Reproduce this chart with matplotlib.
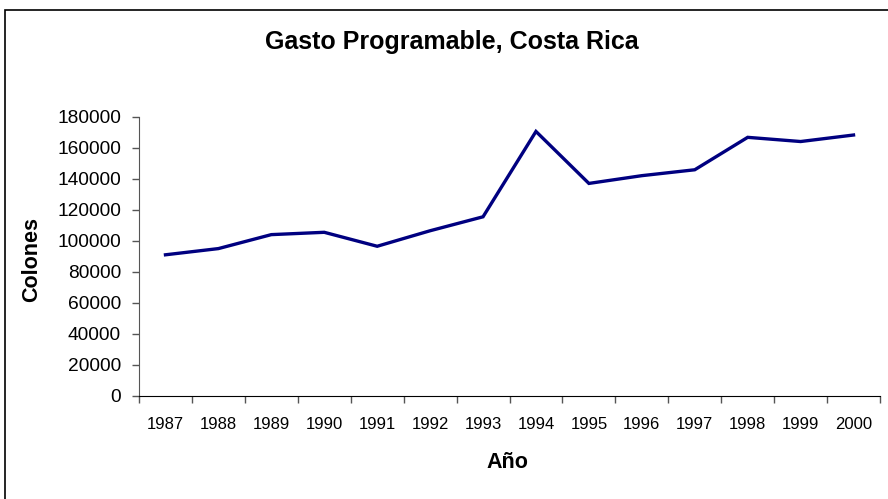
import matplotlib.pyplot as plt
import matplotlib.patches as patches
import numpy as np

plt.rcParams['font.family'] = ['Liberation Sans', 'DejaVu Sans']

# datos: gasto programable (colones)
anios = ['1987', '1988', '1989', '1990', '1991', '1992', '1993',
         '1994', '1995', '1996', '1997', '1998', '1999', '2000']
gasto = [91000, 95000, 104000, 105500, 96500, 106500, 115500,
         170500, 137000, 142000, 145800, 166700, 164000, 168200]
yticks = [0, 20000, 40000, 60000, 80000, 100000, 120000, 140000, 160000, 180000]

fig = plt.figure(figsize=(8.88, 4.99), dpi=100)
ax = fig.add_axes([139/888, 1 - 396/499, (880 - 139)/888, (396 - 116.7)/499])

x = np.arange(len(anios))
ax.plot(x, gasto, color='#000080', linewidth=2.4, solid_joinstyle='miter')

ax.set_xlim(-0.5, len(anios) - 0.5)
ax.set_ylim(0, 180000)
ax.set_yticks(yticks)
ax.set_yticklabels([str(v) for v in yticks], fontsize=13.8)

# ticks entre categorías, etiquetas en el centro
ax.set_xticks(np.arange(-0.5, len(anios), 1.0))
ax.set_xticklabels([])
ax.set_xticks(x, minor=True)
ax.set_xticklabels(anios, minor=True, fontsize=12)
ax.tick_params(axis='x', which='minor', length=0, pad=15)
ax.tick_params(axis='x', which='major', length=5, width=1, direction='out', color='#555555')
ax.tick_params(axis='y', length=5, width=1, direction='out', pad=8, color='#555555')

for s in ['top', 'right']:
    ax.spines[s].set_visible(False)
ax.spines['left'].set_color('#555555')
ax.spines['bottom'].set_color('black')

fig.text(452/888, 1 - 49/499, 'Gasto Programable, Costa Rica',
         ha='center', va='baseline', fontsize=18, fontweight='bold')
fig.text(32/888, 1 - 259/499, 'Colones', rotation=90,
         ha='center', va='center', fontsize=15.5, fontweight='bold')
fig.text(507/888, 1 - 468/499, 'Año',
         ha='center', va='baseline', fontsize=15.5, fontweight='bold')

# borde del gráfico
fig.patches.append(patches.Rectangle((5/888, -0.1), 1.1, 1 - 10/499 + 0.1,
                                     transform=fig.transFigure, fill=False,
                                     edgecolor='black', linewidth=1.2))

fig.savefig('out.png', dpi=100)
